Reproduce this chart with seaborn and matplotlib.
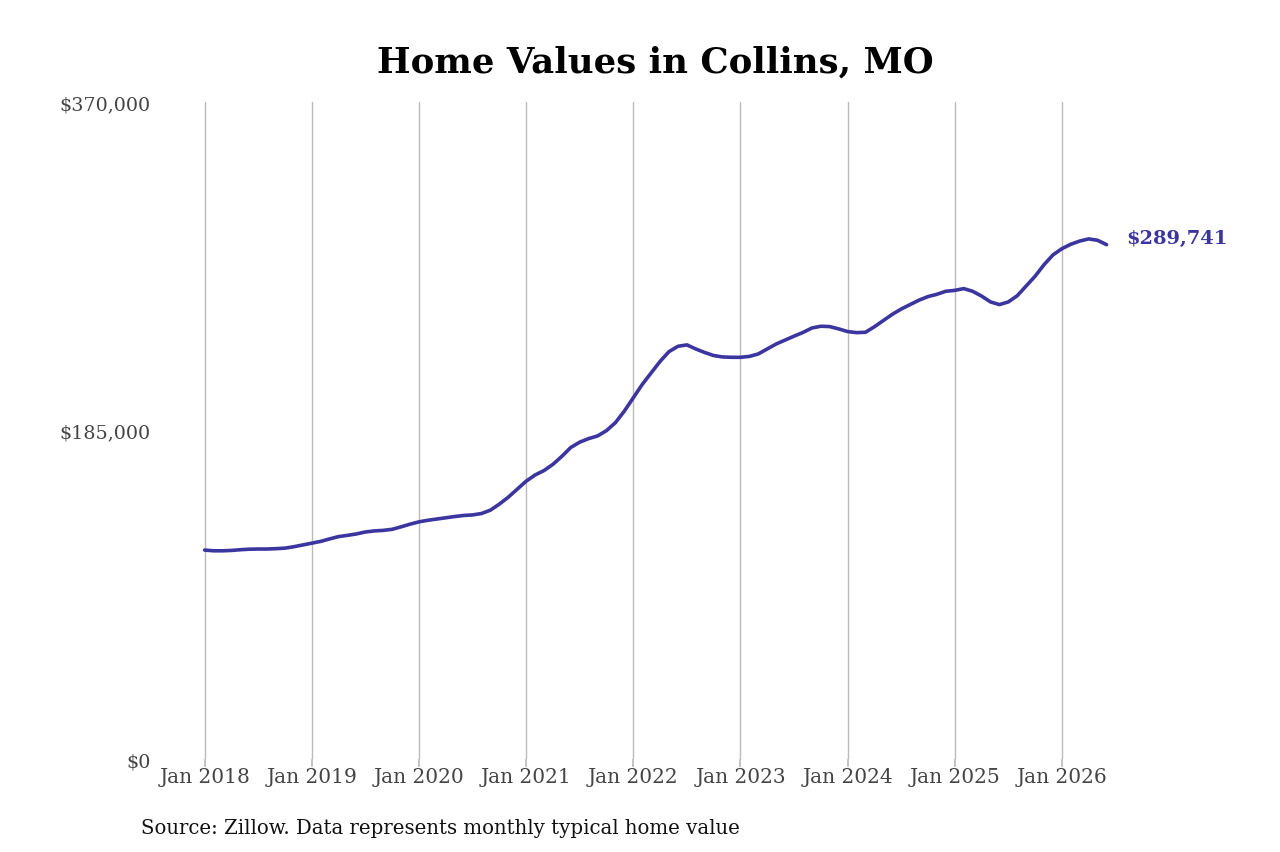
import pandas as pd
import numpy as np
import matplotlib.pyplot as plt
import seaborn as sns

# monthly typical home value, Jan 2018 - Jun 2026
values_2018 = [117700, 117300, 117300, 117500, 117900, 118200, 118300, 118300, 118500, 118800, 119600, 120600]
values_2019 = [121600, 122600, 124000, 125300, 126000, 126800, 127900, 128500, 128800, 129400, 130800, 132300]
values_2020 = [133600, 134500, 135200, 135900, 136600, 137200, 137500, 138300, 140200, 143600, 147500, 152000]
values_2021 = [156500, 160000, 162500, 166000, 170500, 175500, 178500, 180500, 182000, 185000, 189500, 196000]
values_2022 = [203500, 211000, 217500, 224000, 229500, 232500, 233300, 231000, 229000, 227300, 226500, 226300]
values_2023 = [226300, 226800, 228200, 231000, 233800, 236000, 238200, 240300, 242800, 243800, 243600, 242300]
values_2024 = [240800, 240200, 240400, 243500, 247000, 250500, 253500, 256000, 258500, 260500, 261800, 263500]
values_2025 = [264000, 265000, 263500, 260800, 257500, 256000, 257500, 261000, 266500, 272000, 278500, 284000]
values_2026 = [287500, 290000, 291800, 293000, 292200, 289741]

tick_labels = ["Jan 2018", "Jan 2019", "Jan 2020", "Jan 2021", "Jan 2022",
               "Jan 2023", "Jan 2024", "Jan 2025", "Jan 2026"]
y_ticks = [0, 185000, 370000]
y_labels = ["$0", "$185,000", "$370,000"]
end_label = "$289,741"

values = (values_2018 + values_2019 + values_2020 + values_2021 + values_2022
          + values_2023 + values_2024 + values_2025 + values_2026)
df = pd.DataFrame({"month": np.arange(len(values)), "value": values})

sns.set_theme(style="white")
plt.rcParams["font.family"] = ["DejaVu Serif"]

line_color = "#3b35a0"

fig = plt.figure(figsize=(12.8, 8.53), dpi=100)
ax = fig.add_axes([0.125, 0.109, 0.743, 0.770])

sns.lineplot(data=df, x="month", y="value", color=line_color, linewidth=2.6, ax=ax)

ax.set_xlim(-5, 101.5)
ax.set_ylim(0, 370000)
ax.set_xticks(np.arange(0, 97, 12))
ax.set_xticklabels(tick_labels, fontsize=14.5, color="#444444")
ax.set_yticks(y_ticks)
ax.set_yticklabels(y_labels, fontsize=13.8, color="#444444")
ax.set_xlabel("")
ax.set_ylabel("")

ax.grid(axis="x", color="#bbbbbb", linewidth=1)
ax.grid(axis="y", visible=False)
for s in ax.spines.values():
    s.set_visible(False)
ax.tick_params(axis="x", length=6, color="#bbbbbb", pad=0, bottom=True)
ax.tick_params(axis="y", length=0, pad=7)

ax.text(df["month"].iloc[-1] + 2.2, df["value"].iloc[-1] + 3500, end_label,
        color=line_color, fontsize=14, fontweight="bold", va="center", ha="left")

fig.text(0.512, 0.927, "Home Values in Collins, MO", ha="center", va="center",
         fontsize=25.6, fontweight="bold", color="black")
fig.text(0.110, 0.029, "Source: Zillow. Data represents monthly typical home value",
         ha="left", va="center", fontsize=14.2, color="#111111")

fig.savefig("out.png", dpi=100)
